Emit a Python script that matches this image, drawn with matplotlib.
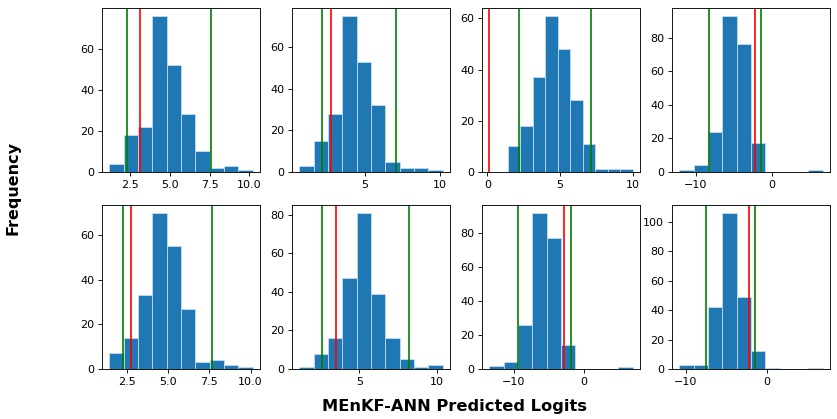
import numpy as np
import matplotlib
matplotlib.use("Agg")
import matplotlib.pyplot as plt

# histogram counts (10 bins each), bin range, red marker, green interval
counts = [
    [4, 18, 22, 76, 52, 28, 10, 2, 3, 1],
    [3, 15, 28, 75, 53, 32, 5, 2, 2, 1],
    [10, 18, 37, 61, 48, 28, 11, 1, 1, 1],
    [1, 4, 24, 93, 76, 17, 0, 0, 0, 1],
    [7, 14, 33, 70, 55, 27, 3, 4, 2, 1],
    [1, 8, 16, 47, 81, 39, 16, 5, 1, 2],
    [2, 4, 26, 92, 77, 14, 0, 0, 0, 1],
    [3, 3, 42, 106, 49, 12, 1, 0, 0, 1],
]
bin_lo = [1.21, 0.62, 1.41, -12.2, 1.45, 1.12, -13.48, -10.82]
bin_hi = [10.21, 10.2, 10.0, 6.75, 10.14, 10.4, 6.95, 6.89]
red_x = [3.14, 2.73, 0.12, -2.24, 2.76, 3.49, -2.78, -2.25]
green_lo = [2.33, 2.13, 2.14, -8.2, 2.26, 2.59, -9.45, -7.47]
green_hi = [7.56, 7.11, 7.15, -1.4, 7.7, 8.19, -1.88, -1.51]

# ticks as shown in the reference
xticks = [
    [2.5, 5.0, 7.5, 10.0], [5, 10], [0, 5, 10], [-10, 0],
    [2.5, 5.0, 7.5, 10.0], [5, 10], [-10, 0], [-10, 0],
]
yticks = [
    [0, 20, 40, 60], [0, 20, 40, 60], [0, 20, 40, 60], [0, 20, 40, 60, 80],
    [0, 20, 40, 60], [0, 20, 40, 60, 80], [0, 20, 40, 60, 80], [0, 20, 40, 60, 80, 100],
]

# reference looks like it was drawn at a lower dpi, so fonts come out smaller
fig, axes = plt.subplots(2, 4, figsize=(837/80, 419/80), dpi=80)
plt.subplots_adjust(left=102/837, right=830/837, top=1 - 8/419, bottom=50/419,
                    wspace=0.2025, hspace=0.201)

for i, ax in enumerate(axes.flat):
    edges = np.linspace(bin_lo[i], bin_hi[i], len(counts[i]) + 1)
    ax.hist(edges[:-1], bins=edges, weights=counts[i], color='#1f77b4',
            edgecolor='#d4e4f1', linewidth=0.6)
    ax.axvline(green_lo[i], color='g')
    ax.axvline(green_hi[i], color='g')
    ax.axvline(red_x[i], color='r')
    ax.set_xticks(xticks[i])
    ax.set_yticks(yticks[i])

fig.text(455/837, 1 - 407/419, 'MEnKF-ANN Predicted Logits', ha='center', va='center',
         fontsize=14.6, fontweight='bold')
fig.text(13/837, 1 - 188/419, 'Frequency', ha='center', va='center', rotation=90,
         fontsize=14.4, fontweight='bold')

fig.savefig('out.png', dpi=80)
